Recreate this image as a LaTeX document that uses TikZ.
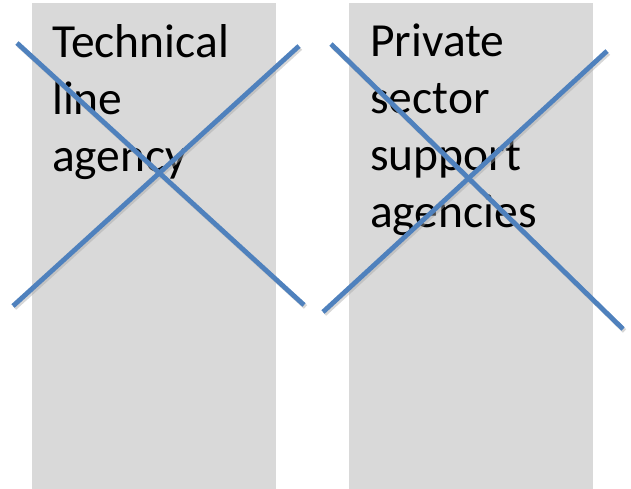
\documentclass[tikz,border=0pt]{standalone}
\usepackage{fontspec}
\setmainfont{Carlito}
\usepackage{xcolor}
\usepackage{tikz}
\usetikzlibrary{positioning}
\definecolor{panelgray}{HTML}{D9D9D9}
\definecolor{crossblue}{HTML}{4F81BD}

\begin{document}
\begin{tikzpicture}[
          x=1pt,y=-1pt,
          every node/.style={font=\fontsize{47.5}{57}\selectfont},
          panel/.style={fill=panelgray,draw=none,anchor=north west,
                        minimum width=244pt,minimum height=490pt,inner sep=0pt},
          lbl/.style={anchor=north west,align=left,inner sep=0pt,text=black},
          cross/.style={draw=crossblue,line width=4.8pt},
          crossshadow/.style={draw=black!35,line width=4.8pt,opacity=0.45},
      ]
        \useasboundingbox (0,0) rectangle (631,488);
        % the two panels
        \node[panel] (tech) at (32,3) {};
        \node[panel] (priv) at (349,3) {};
        \node[lbl] (techtxt) at (52,24) {Technical\\line\\agency};
        \node[lbl] (privtxt) at (370,24) {Private\\sector\\support\\agencies};

        % crosses over the panels
        \coordinate (ta) at (17,43);  \coordinate (tb) at (304,305);
        \coordinate (tc) at (13,306); \coordinate (td) at (299,46);
        \coordinate (pa) at (331,44); \coordinate (pb) at (623,329);
        \coordinate (pc) at (323,312); \coordinate (pd) at (607,51);
        \foreach \a/\b in {ta/tb,tc/td,pa/pb,pc/pd}
          \draw[crossshadow] ([shift={(1.5,2)}]\a) -- ([shift={(1.5,2)}]\b);
        \foreach \a/\b in {ta/tb,tc/td,pa/pb,pc/pd}
          \draw[cross] (\a) -- (\b);
      \end{tikzpicture}
\end{document}
